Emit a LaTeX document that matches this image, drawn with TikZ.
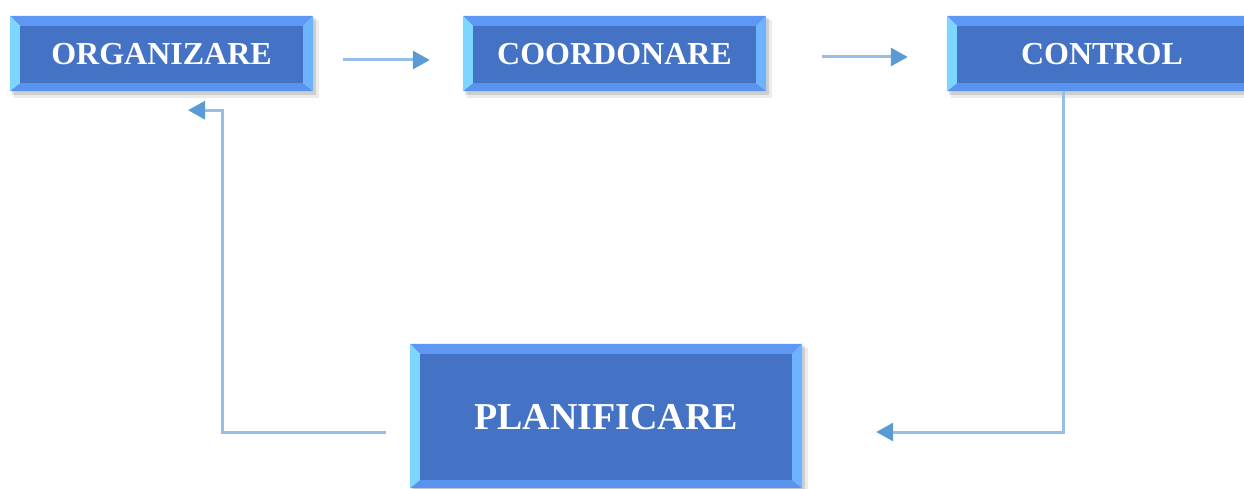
\documentclass[tikz,border=0pt]{standalone}
\usepackage{fontspec}
\setmainfont{Liberation Serif}
\usetikzlibrary{arrows.meta,calc,backgrounds}
\definecolor{boxfill}{HTML}{4472C4}
\definecolor{bevtop}{HTML}{5E97F4}
\definecolor{bevbot}{HTML}{5A93EE}
\definecolor{bevleft}{HTML}{7DD6FF}
\definecolor{bevright}{HTML}{6DB3FF}
\definecolor{lineblue}{HTML}{95BEE8}
\definecolor{headblue}{HTML}{5B9BD5}
\tikzset{
  stepbox/.style={rectangle, inner sep=0pt, text=white,
    font=\fontsize{32}{36}\selectfont\bfseries},
  bigbox/.style={stepbox, font=\fontsize{38}{42}\selectfont\bfseries},
  conn/.style={draw=lineblue, line width=3pt,
    -{Triangle[length=17pt,width=18pt,color=headblue]}},
}
% y axis points down: negative y offset = up
\newcommand{\mybevel}[2]{%
  \begin{pgfonlayer}{background}
  \fill[black,opacity=0.08] ($(#1.north west)+(-#2+4,-#2+4)$) rectangle ($(#1.south east)+(#2+6,#2+5)$);
  \fill[black,opacity=0.12] ($(#1.north west)+(-#2+2,-#2+2)$) rectangle ($(#1.south east)+(#2+3,#2+2)$);
  \fill[bevtop] ($(#1.north west)+(-#2,-#2)$) -- ($(#1.north east)+(#2,-#2)$) -- (#1.north east) -- (#1.north west) -- cycle;
  \fill[bevbot] ($(#1.south west)+(-#2,#2-2)$) -- ($(#1.south east)+(#2,#2-2)$) -- (#1.south east) -- (#1.south west) -- cycle;
  \fill[bevleft] ($(#1.north west)+(-#2,-#2)$) -- (#1.north west) -- (#1.south west) -- ($(#1.south west)+(-#2,#2-2)$) -- cycle;
  \fill[bevright] ($(#1.north east)+(#2,-#2)$) -- (#1.north east) -- (#1.south east) -- ($(#1.south east)+(#2,#2-2)$) -- cycle;
  \fill[boxfill] (#1.north west) rectangle (#1.south east);
  \end{pgfonlayer}
}
\begin{document}
\begin{tikzpicture}[x=1pt,y=-1pt]
\useasboundingbox (0,0) rectangle (1244,489);
% nodes (inner faces)
\node[stepbox, minimum width=283pt, minimum height=57pt] (org) at (161.5,54.5) {ORGANIZARE};
\node[stepbox, minimum width=283pt, minimum height=57pt] (coord) at (614.5,54.5) {COORDONARE};
\node[stepbox, minimum width=290pt, minimum height=57pt] (ctl) at (1102,54.5) {CONTROL};
\node[bigbox, minimum width=372pt, minimum height=126pt] (plan) at (606,417) {PLANIFICARE};
\mybevel{org}{10}
\mybevel{coord}{10}
\mybevel{ctl}{10}
\mybevel{plan}{10}
% connectors
\draw[conn] ([xshift=40pt,yshift=-5.5pt]org.east) -- ([xshift=-43pt,yshift=-5.5pt]coord.west);
\draw[conn] ([xshift=66pt,yshift=-2.5pt]coord.east) -- ([xshift=-49pt,yshift=-2.5pt]ctl.west);
\draw[conn] ([xshift=-39pt,yshift=-8pt]ctl.south) |- ([xshift=84pt,yshift=-15pt]plan.east);
\coordinate (orgin) at ([xshift=26.5pt,yshift=-27pt]org.south);
\draw[conn] ([xshift=-34pt,yshift=-15pt]plan.west) -| ($(orgin)+(34,0)$) -- (orgin);
\end{tikzpicture}
\end{document}
